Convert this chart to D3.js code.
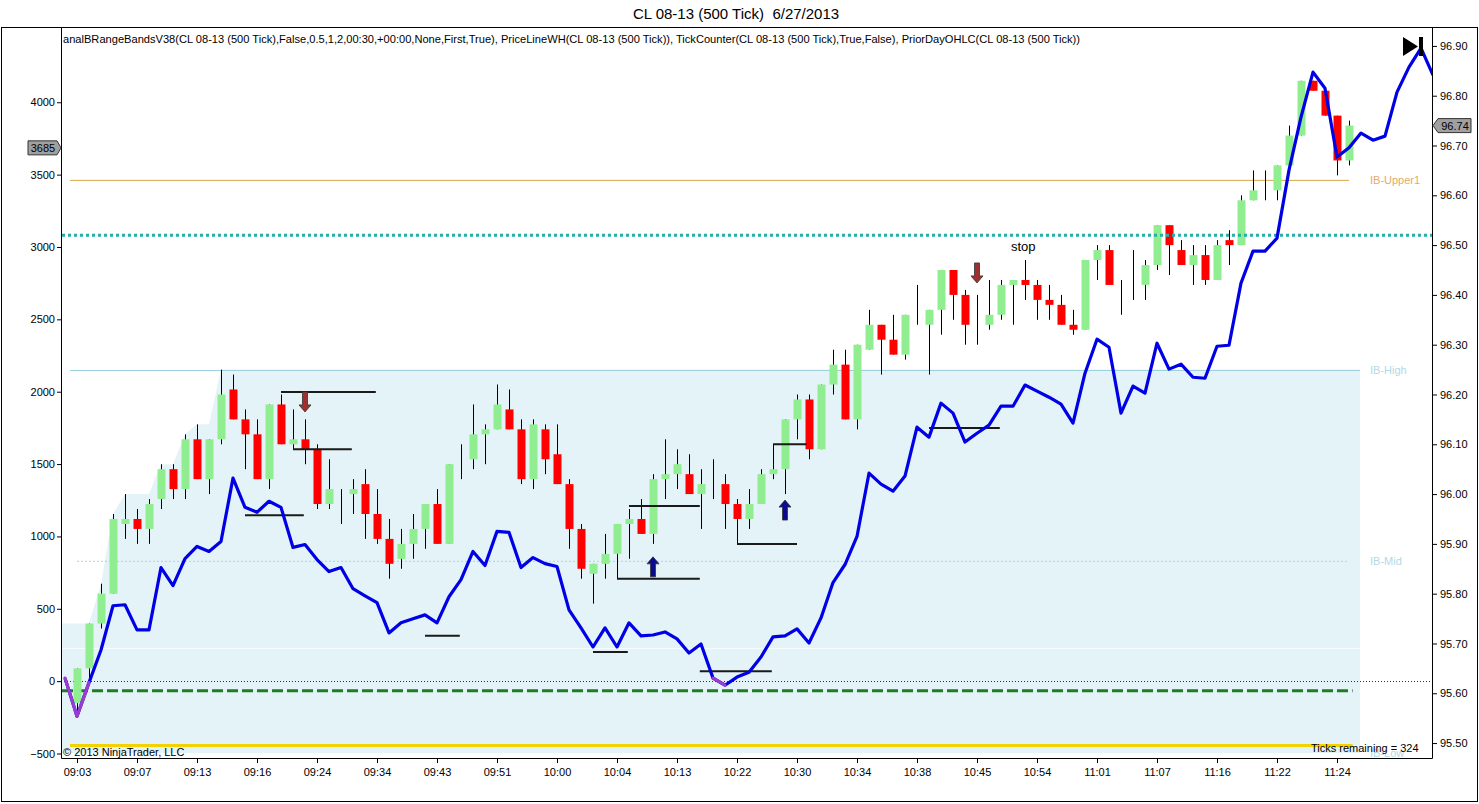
<!DOCTYPE html>
<html>
<head>
<meta charset="utf-8">
<title>CL 08-13 (500 Tick) 6/27/2013</title>
<script src="https://cdn.jsdelivr.net/npm/d3@7"></script>
<style>
  body { margin: 0; background: #fff; }
  svg text { font-family: "Liberation Sans", Arial, sans-serif; }
</style>
</head>
<body>
<svg id="chart"></svg>
<script>
// OHLC of the 500 tick bars (bar 0 = 09:03)
var barOpen  = [95.58,95.65,95.74,95.80,95.94,95.95,95.93,95.99,96.05,96.01,96.11,96.03,96.11,96.21,96.15,96.12,96.03,96.18,96.10,96.11,
                96.09,95.98,95.99,96.00,96.02,95.96,95.91,95.87,95.90,95.93,95.98,95.90,96.06,96.07,96.12,96.13,96.17,96.13,96.03,96.13,
                96.08,96.02,95.93,95.84,95.86,95.88,95.94,95.95,95.92,96.03,96.04,96.04,96.00,96.00,96.02,95.98,95.95,95.98,96.04,96.05,
                96.15,96.19,96.09,96.22,96.26,96.15,96.29,96.34,96.31,96.28,96.38,96.34,96.37,96.45,96.40,96.35,96.34,96.36,96.42,96.43,
                96.42,96.39,96.38,96.34,96.33,96.47,96.49,96.40,96.45,96.42,96.46,96.54,96.49,96.46,96.48,96.43,96.51,96.50,96.59,96.62,
                96.61,96.66,96.72,96.83,96.81,96.76,96.67];
var barHigh  = [95.65,95.74,95.82,95.96,96.00,95.97,95.99,96.06,96.06,96.12,96.14,96.11,96.25,96.24,96.17,96.15,96.18,96.20,96.17,96.15,
                96.10,96.07,96.01,96.03,96.05,96.01,95.95,95.93,95.96,95.98,96.01,96.06,96.10,96.18,96.14,96.22,96.21,96.15,96.15,96.14,
                96.14,96.03,95.94,95.86,95.92,95.94,95.97,95.99,96.04,96.11,96.09,96.08,96.05,96.07,96.04,95.99,96.01,96.05,96.10,96.15,
                96.20,96.20,96.22,96.29,96.29,96.30,96.37,96.34,96.36,96.36,96.42,96.37,96.45,96.45,96.41,96.40,96.43,96.43,96.43,96.47,
                96.43,96.42,96.40,96.37,96.47,96.50,96.50,96.43,96.49,96.47,96.54,96.54,96.51,96.50,96.50,96.51,96.53,96.60,96.65,96.65,
                96.66,96.74,96.83,96.83,96.81,96.76,96.75];
var barLow   = [95.56,95.62,95.73,95.80,95.91,95.90,95.90,95.97,95.99,95.99,96.03,96.00,96.10,96.15,96.05,96.03,96.01,96.10,96.09,96.06,
                95.97,95.97,95.94,95.96,95.91,95.90,95.83,95.85,95.87,95.89,95.90,95.90,96.03,96.05,96.06,96.13,96.13,96.02,96.01,96.04,
                96.02,95.89,95.83,95.78,95.83,95.83,95.87,95.92,95.90,95.99,96.01,96.00,95.93,95.99,95.93,95.90,95.93,95.98,96.03,96.00,
                96.11,96.07,96.09,96.20,96.15,96.13,96.29,96.24,96.28,96.27,96.34,96.24,96.32,96.35,96.30,96.30,96.33,96.35,96.34,96.39,
                96.35,96.35,96.34,96.32,96.33,96.43,96.42,96.36,96.39,96.39,96.45,96.44,96.46,96.42,96.42,96.43,96.46,96.50,96.59,96.59,
                96.59,96.66,96.72,96.81,96.76,96.64,96.66];
var barClose = [95.65,95.74,95.80,95.95,95.95,95.93,95.98,96.05,96.01,96.11,96.03,96.11,96.20,96.15,96.12,96.03,96.18,96.10,96.11,96.09,
                95.98,96.01,95.99,96.01,95.96,95.91,95.86,95.90,95.93,95.98,95.90,96.06,96.06,96.12,96.13,96.18,96.13,96.03,96.14,96.07,
                96.02,95.93,95.85,95.86,95.88,95.94,95.95,95.92,96.03,96.04,96.06,96.00,96.02,96.00,95.98,95.95,95.98,96.04,96.05,96.15,
                96.19,96.09,96.22,96.26,96.15,96.30,96.34,96.31,96.28,96.36,96.38,96.37,96.45,96.40,96.34,96.35,96.36,96.42,96.43,96.42,
                96.39,96.38,96.34,96.33,96.47,96.49,96.42,96.40,96.45,96.46,96.54,96.50,96.46,96.48,96.43,96.50,96.50,96.59,96.61,96.62,
                96.66,96.72,96.83,96.81,96.76,96.67,96.74];

// x axis labels, one every 5 bars
var timeLabels = ["09:03","09:07","09:13","09:16","09:24","09:34","09:43","09:51","10:00","10:04","10:13",
                  "10:22","10:30","10:34","10:38","10:45","10:54","11:01","11:07","11:16","11:22","11:24"];

// cumulative delta line (left axis), first value belongs to bar -1
var deltaStart = -1;
var deltaValues = [21,-243,-10,215,521,528,354,354,785,660,847,931,896,965,1403,1201,1167,1243,1201,924,
                   944,840,757,785,639,590,542,333,403,431,458,403,583,701,896,799,1035,1028,785,854,
                   812,792,493,368,236,368,236,403,313,319,340,292,194,257,21,-28,28,62,167,306,
                   313,361,264,437,681,806,1000,1437,1361,1313,1417,1755,1686,1921,1852,1652,1713,1769,1900,1900,
                   2046,2004,1962,1914,1783,2128,2363,2307,1852,2039,1990,2335,2156,2190,2100,2093,2314,2321,2750,2971,
                   2971,3061,3531,3897,4208,4097,3621,3685,3787,3738,3766,4070,4243,4374,4187];

var deltaTicks = [4000,3500,3000,2500,2000,1500,1000,500,0,-500];
var priceTicks = [96.90,96.80,96.70,96.60,96.50,96.40,96.30,96.20,96.10,96.00,95.90,95.80,95.70,95.60,95.50];

// initial balance levels
var ibHigh = 96.25, ibLow = 95.48, ibUpper1 = 96.63, ibEndBar = 25;
var teal = 96.52, priorClose = 95.605, priorLow = 95.495;

// swing lines: [fromBar, toBar, value]
var priceSwings = [[17,24.9,96.205],[18,22.9,96.09],[45,51.9,95.83],[46,51.9,95.976],[55,60,95.90],[58,60.8,96.10]];
var deltaSwings = [[14,18.9,1146],[29,31.9,313],[43,45.9,201],[51.9,57.9,69],[71,76.9,1750]];

// signal arrows: [bar, price at tip, direction]
var arrows = [[19,96.165,'down'],[75,96.424,'down'],[48,95.874,'up'],[59,95.988,'up']];

var width = 1479, height = 804;
var plotLeft = 61, plotRight = 1432, plotTop = 27, plotBottom = 758;

var chart = d3.select('#chart')
  .attr('width', width)
  .attr('height', height);

var xScale = d3.scaleLinear().domain([0, 106]).range([77, 1349]);
var yPrice = d3.scaleLinear().domain([95.47, 96.938]).range([plotBottom, plotTop]);
var yDelta = d3.scaleLinear().domain([-531, 4520]).range([plotBottom, plotTop]);

chart.append('defs').append('clipPath').attr('id', 'plotClip')
  .append('rect')
  .attr('x', plotLeft).attr('y', plotTop)
  .attr('width', plotRight - plotLeft).attr('height', plotBottom - plotTop);

var plot = chart.append('g').attr('clip-path', 'url(#plotClip)');

// IB shading, top follows the running high until the IB is set
var runHigh = [], hi = 0;
for (var i = 1; i <= ibEndBar; i++) {
  hi = Math.max(hi, barHigh[i]);
  runHigh.push({ bar: i, value: Math.min(hi, ibHigh) });
}
var shadeTop = [{ bar: -1.25, value: runHigh[0].value }].concat(runHigh)
  .concat([{ bar: 106.92, value: ibHigh }]);

plot.append('path')
  .datum(shadeTop)
  .attr('fill', '#e4f3f8')
  .attr('d', d3.area()
    .x(function(d){ return xScale(d.bar); })
    .y0(yPrice(ibLow))
    .y1(function(d){ return yPrice(d.value); }));

plot.append('line')
  .attr('x1', xScale(-1.25)).attr('x2', xScale(106.92))
  .attr('y1', Math.round(yPrice(95.69)) + 0.5).attr('y2', Math.round(yPrice(95.69)) + 0.5)
  .attr('stroke', '#f6fcfe');

// horizontal level lines
function hLine(y, x1, x2, color, w, dash) {
  plot.append('line')
    .attr('x1', x1).attr('x2', x2)
    .attr('y1', y).attr('y2', y)
    .attr('stroke', color)
    .attr('stroke-width', w)
    .attr('stroke-dasharray', dash || null);
}
hLine(yPrice(ibUpper1), 70, xScale(106), '#d4a94a', 1);
hLine(Math.round(yPrice(ibHigh)) + 0.5, 70, xScale(106.92), '#9fd0e0', 1);
hLine(yPrice((ibHigh + ibLow) / 2), 77, xScale(106), '#a8d2de', 1, '2,2');
hLine(Math.round(yDelta(0)) + 0.5, plotLeft, plotRight, '#333', 1, '1,2');
hLine(yPrice(priorClose), plotLeft + 1, xScale(106.3), '#1f7d1f', 3, '11,4');
hLine(yPrice(priorLow), 70, xScale(106.3), '#f2d200', 3);

// IB labels
var ibLabels = [['IB-Upper1', ibUpper1, '#e2aa6a'], ['IB-High', ibHigh, '#b2d9e8'],
                ['IB-Mid', (ibHigh + ibLow) / 2, '#b2d9e8'], ['IB-Low', ibLow, '#b2d9e8']];
chart.selectAll('.iblabel')
  .data(ibLabels)
  .enter().append('text')
    .attr('class', 'iblabel')
    .attr('x', 1370)
    .attr('y', function(d){ return yPrice(d[1]) + 4; })
    .attr('font-size', 11)
    .attr('fill', function(d){ return d[2]; })
    .text(function(d){ return d[0]; });

// candles
var bars = d3.range(barOpen.length).map(function(i){
  return { i: i, o: barOpen[i], h: barHigh[i], l: barLow[i], c: barClose[i] };
});

plot.selectAll('.wick')
  .data(bars)
  .enter().append('line')
    .attr('class', 'wick')
    .attr('x1', function(d){ return Math.round(xScale(d.i)) + 0.5; })
    .attr('x2', function(d){ return Math.round(xScale(d.i)) + 0.5; })
    .attr('y1', function(d){ return yPrice(d.h); })
    .attr('y2', function(d){ return yPrice(d.l); })
    .attr('stroke', '#000')
    .attr('stroke-width', 1);

plot.selectAll('.body')
  .data(bars.filter(function(d){ return d.o != d.c; }))
  .enter().append('rect')
    .attr('class', 'body')
    .attr('x', function(d){ return Math.round(xScale(d.i)) - 3.5; })
    .attr('y', function(d){ return Math.min(yPrice(d.o), yPrice(d.c)); })
    .attr('width', 8)
    .attr('height', function(d){ return Math.max(Math.abs(yPrice(d.o) - yPrice(d.c)), 2); })
    .attr('fill', function(d){ return d.c > d.o ? '#90ee90' : '#ff0000'; });

// teal dotted line sits over the candles
hLine(yPrice(teal), plotLeft + 1, plotRight, '#22b0a8', 3, '3,3');

// swing lines
plot.selectAll('.pswing')
  .data(priceSwings)
  .enter().append('line')
    .attr('x1', function(d){ return xScale(d[0]); })
    .attr('x2', function(d){ return xScale(d[1]); })
    .attr('y1', function(d){ return yPrice(d[2]); })
    .attr('y2', function(d){ return yPrice(d[2]); })
    .attr('stroke', '#1a1a1a').attr('stroke-width', 2);

plot.selectAll('.dswing')
  .data(deltaSwings)
  .enter().append('line')
    .attr('x1', function(d){ return xScale(d[0]); })
    .attr('x2', function(d){ return xScale(d[1]); })
    .attr('y1', function(d){ return yDelta(d[2]); })
    .attr('y2', function(d){ return yDelta(d[2]); })
    .attr('stroke', '#1a1a1a').attr('stroke-width', 2);

// block arrows
function arrowPath(cx, ty, dir) {
  var s = dir == 'down' ? -1 : 1;
  return 'M' + cx + ',' + ty +
    'L' + (cx + 6) + ',' + (ty + s * 7) +
    'L' + (cx + 2.5) + ',' + (ty + s * 7) +
    'L' + (cx + 2.5) + ',' + (ty + s * 20) +
    'L' + (cx - 2.5) + ',' + (ty + s * 20) +
    'L' + (cx - 2.5) + ',' + (ty + s * 7) +
    'L' + (cx - 6) + ',' + (ty + s * 7) + 'Z';
}
plot.selectAll('.arrow')
  .data(arrows)
  .enter().append('path')
    .attr('d', function(d){ return arrowPath(xScale(d[0]), yPrice(d[1]), d[2]); })
    .attr('fill', function(d){ return d[2] == 'down' ? '#a03030' : '#0a0a90'; })
    .attr('stroke', '#333')
    .attr('stroke-width', 0.8);

// cumulative delta line, purple where it ends below zero
var deltaPts = deltaValues.map(function(v, k){ return { bar: k + deltaStart, value: v }; });
var deltaLine = d3.line()
  .x(function(d){ return xScale(d.bar); })
  .y(function(d){ return yDelta(d.value); });

plot.append('path')
  .datum(deltaPts)
  .attr('fill', 'none')
  .attr('stroke', '#0000e6')
  .attr('stroke-width', 3.2)
  .attr('stroke-linejoin', 'round')
  .attr('d', deltaLine);

var negSegs = [];
for (var k = 1; k < deltaPts.length; k++) {
  if (deltaPts[k].value < 0) negSegs.push([deltaPts[k - 1], deltaPts[k]]);
}
plot.selectAll('.neg')
  .data(negSegs)
  .enter().append('path')
    .attr('fill', 'none')
    .attr('stroke', '#9a3ccf')
    .attr('stroke-width', 3.2)
    .attr('stroke-linecap', 'round')
    .attr('d', deltaLine);

// texts inside the panel
chart.append('text')
  .attr('x', 1011).attr('y', 251)
  .attr('font-size', 13)
  .text('stop');

chart.append('text')
  .attr('x', 63).attr('y', 43)
  .attr('font-size', 11)
  .attr('textLength', 1017)
  .attr('lengthAdjust', 'spacingAndGlyphs')
  .text('analBRangeBandsV38(CL 08-13 (500 Tick),False,0.5,1,2,00:30,+00:00,None,First,True), PriceLineWH(CL 08-13 (500 Tick)), TickCounter(CL 08-13 (500 Tick),True,False), PriorDayOHLC(CL 08-13 (500 Tick))');

chart.append('text')
  .attr('x', 63).attr('y', 756)
  .attr('font-size', 11)
  .text('\u00a9 2013 NinjaTrader, LLC');

chart.append('text')
  .attr('x', 1311).attr('y', 752)
  .attr('font-size', 11)
  .text('Ticks remaining = 324');

// title
chart.append('text')
  .attr('x', 736).attr('y', 19)
  .attr('text-anchor', 'middle')
  .attr('font-size', 15)
  .style('white-space', 'pre')
  .text('CL 08-13 (500 Tick)  6/27/2013');

// axes
var yAxisLeft = chart.append('g')
  .attr('transform', 'translate(' + plotLeft + ',0)')
  .call(d3.axisLeft(yDelta).tickValues(deltaTicks).tickFormat(d3.format('d'))
    .tickSize(4).tickSizeOuter(0).tickPadding(2));

var yAxisRight = chart.append('g')
  .attr('transform', 'translate(' + plotRight + ',0)')
  .call(d3.axisRight(yPrice).tickValues(priceTicks).tickFormat(d3.format('.2f'))
    .tickSize(5).tickSizeOuter(0).tickPadding(3));

var xAxis = chart.append('g')
  .attr('transform', 'translate(0,' + plotBottom + ')')
  .call(d3.axisBottom(xScale)
    .tickValues(timeLabels.map(function(d, k){ return k * 5; }))
    .tickFormat(function(d){ return timeLabels[d / 5]; })
    .tickSize(5).tickSizeOuter(0).tickPadding(5));

chart.selectAll('.domain').remove();
chart.selectAll('.tick text').attr('font-size', 11).attr('font-family', '"Liberation Sans", Arial, sans-serif').attr('fill', '#000');
chart.selectAll('.tick line').attr('stroke', '#000');

// panel frame
chart.append('rect')
  .attr('x', 1.5).attr('y', 27.5)
  .attr('width', 1476).attr('height', 774)
  .attr('fill', 'none').attr('stroke', '#000');
chart.append('path')
  .attr('d', 'M' + (plotLeft + 0.5) + ',' + plotTop + 'V' + (plotBottom + 0.5) + 'H' + (plotRight + 0.5) + 'V' + plotTop)
  .attr('fill', 'none').attr('stroke', '#000');

// last value markers
var dY = yDelta(3685);
chart.append('path')
  .attr('d', 'M28,' + (dY - 7) + 'H57L61,' + dY + 'L57,' + (dY + 7) + 'H28Z')
  .attr('fill', '#a0a0a0').attr('stroke', '#333');
chart.append('text')
  .attr('x', 43).attr('y', dY + 4)
  .attr('text-anchor', 'middle').attr('font-size', 11)
  .text('3685');

var pY = yPrice(barClose[barClose.length - 1]);
chart.append('path')
  .attr('d', 'M' + (plotRight + 1) + ',' + pY + 'L1438,' + (pY - 7) + 'H1471V' + (pY + 7) + 'H1438Z')
  .attr('fill', '#a0a0a0').attr('stroke', '#333');
chart.append('text')
  .attr('x', 1455).attr('y', pY + 4)
  .attr('text-anchor', 'middle').attr('font-size', 11)
  .text(d3.format('.2f')(barClose[barClose.length - 1]));

// scroll-to-end button
chart.append('path')
  .attr('d', 'M1403,37L1418,46.5L1403,56Z')
  .attr('fill', '#000');
chart.append('rect')
  .attr('x', 1419).attr('y', 37).attr('width', 4).attr('height', 19)
  .attr('fill', '#000');
</script>
</body>
</html>
